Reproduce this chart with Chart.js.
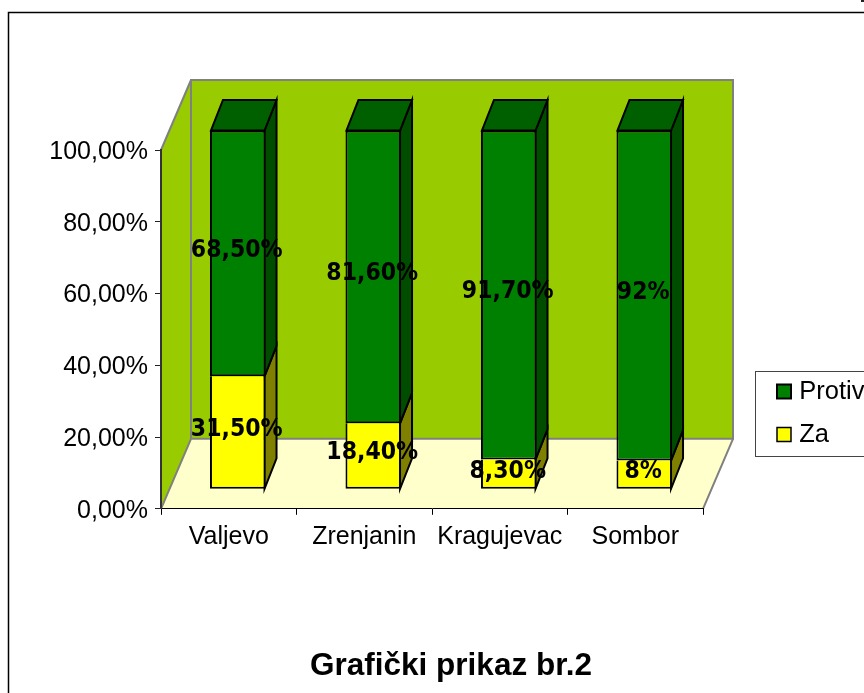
<!DOCTYPE html>
<html><head><meta charset="utf-8">
<style>html,body{margin:0;padding:0;background:#fff;overflow:hidden}canvas{display:block}</style>
<script src="https://cdn.jsdelivr.net/npm/chart.js@4"></script>
</head><body><canvas id="c" width="864" height="693"></canvas>
<script>
const categories = ["Valjevo","Zrenjanin","Kragujevac","Sombor"];
const zaValues = [31.5,18.4,8.3,8];
const protivValues = [68.5,81.6,91.7,92];
const zaLabels = ["31,50%","18,40%","8,30%","8%"];
const protivLabels = ["68,50%","81,60%","91,70%","92%"];
const seriesNames = ["Za","Protiv"];
const chartTitle = "Grafički prikaz br.2";

const SANS = '"Liberation Sans", Arial, sans-serif';
const WALL = {dx:30, dy:-70};
const BAR_SHIFT = {dx:9, dy:-19.5};
const BAR_DEPTH = {dx:12, dy:-30.5};

function poly(ctx, pts, fill, stroke, lw){
  ctx.beginPath();
  pts.forEach((p,i)=> i?ctx.lineTo(p[0],p[1]):ctx.moveTo(p[0],p[1]));
  ctx.closePath();
  if(fill){ctx.fillStyle=fill;ctx.fill();}
  if(stroke){ctx.strokeStyle=stroke;ctx.lineWidth=lw;ctx.stroke();}
}
const scene = {
  id:'scene',
  afterLayout(chart){
    const l=chart.legend;
    l.left=764; l.top=361.25; l.right=1100; l.bottom=600; l.width=336; l.height=239;
    const t=chart.titleBlock;
    t.left=0; t.right=902; t.width=902;
  },
  beforeDraw(chart){
    const ctx=chart.ctx, a=chart.chartArea;
    ctx.save();
    ctx.fillStyle='#fff'; ctx.fillRect(0,0,864,693);
    ctx.strokeStyle='#000'; ctx.lineWidth=1.5;
    ctx.strokeRect(8.5,12.5,900,720);
    ctx.fillStyle='#222'; ctx.fillRect(861,0,3,2);
    const L=a.left,R=a.right,T=a.top,B=a.bottom,dx=WALL.dx,dy=WALL.dy;
    poly(ctx,[[L,B],[R,B],[R+dx,B+dy],[L+dx,B+dy]],'#FFFFCC');
    poly(ctx,[[L,T],[L+dx,T+dy],[L+dx,B+dy],[L,B]],'#99CC00');
    poly(ctx,[[L+dx,T+dy],[R+dx,T+dy],[R+dx,B+dy],[L+dx,B+dy]],'#99CC00','#808080',2);
    ctx.strokeStyle='#808080'; ctx.lineWidth=2;
    ctx.beginPath();
    ctx.moveTo(L,T);ctx.lineTo(L+dx,T+dy);
    ctx.moveTo(L,B);ctx.lineTo(L+dx,B+dy);
    ctx.moveTo(R,B);ctx.lineTo(R+dx,B+dy);
    ctx.stroke();
    // legend frame
    ctx.fillStyle='#fff'; ctx.fillRect(755.5,371.5,200,85);
    ctx.strokeStyle='#444'; ctx.lineWidth=1; ctx.strokeRect(755.5,371.5,200,85);
    ctx.restore();
  },
  beforeDatasetsDraw(chart){
    const ctx=chart.ctx;
    ctx.save();
    ctx.translate(BAR_SHIFT.dx,BAR_SHIFT.dy);
    const ddx=BAR_DEPTH.dx, ddy=BAR_DEPTH.dy;
    const sideCols=['#808000','#004D00'];
    chart.data.datasets.forEach((ds,i)=>{
      chart.getDatasetMeta(i).data.forEach(b=>{
        const r=b.x+b.width/2-1;
        poly(ctx,[[r,b.y],[r+ddx,b.y+ddy],[r+ddx,b.base+ddy],[r,b.base]],sideCols[i],'#000',2);
      });
    });
    chart.getDatasetMeta(1).data.forEach(b=>{
      const l=b.x-b.width/2+1, r=b.x+b.width/2-1;
      poly(ctx,[[l,b.y],[r,b.y],[r+ddx,b.y+ddy],[l+ddx,b.y+ddy]],'#006000','#000',2);
    });
  },
  afterDatasetsDraw(chart){
    const ctx=chart.ctx;
    ctx.font='bold 24.5px "DejaVu Sans", Verdana, sans-serif';
    ctx.fillStyle='#000'; ctx.textAlign='center'; ctx.textBaseline='middle';
    [zaLabels,protivLabels].forEach((labs,i)=>{
      chart.getDatasetMeta(i).data.forEach((b,j)=>{
        ctx.save();
        ctx.translate(b.x-1,(b.y+b.base)/2-3);
        ctx.scale(0.9,1);
        ctx.fillText(labs[j],0,0);
        ctx.restore();
      });
    });
    ctx.restore();
  }
};
new Chart(document.getElementById('c'),{
  type:'bar',
  data:{labels:categories,datasets:[
    {label:seriesNames[0],data:zaValues,backgroundColor:'#FFFF00',borderColor:'#000',borderWidth:{top:0,left:2,right:2,bottom:2},borderSkipped:false,clip:false,barPercentage:0.41,categoryPercentage:1},
    {label:seriesNames[1],data:protivValues,backgroundColor:'#008000',borderColor:'#000',borderWidth:2,borderSkipped:false,clip:false,barPercentage:0.41,categoryPercentage:1}
  ]},
  options:{
    responsive:false,animation:false,
    layout:{padding:{left:48,right:161,top:150,bottom:0}},
    scales:{
      x:{stacked:true,offset:true,
        grid:{offset:true,drawOnChartArea:false,drawTicks:true,tickLength:6,color:'#000'},
        border:{color:'#000',width:1},
        ticks:{autoSkip:false,maxRotation:0,minRotation:0,padding:7,color:'#000',font:{family:SANS,size:25}},
        afterFit(s){s.height=50;}
      },
      y:{stacked:true,min:0,max:100,
        grid:{drawOnChartArea:false,drawTicks:true,tickLength:6,color:'#222'},
        border:{color:'#333',width:2},
        ticks:{stepSize:20,padding:7,labelOffset:2,color:'#000',font:{family:SANS,size:25},callback:v=>v+',00%'},
        afterFit(s){s.width=113;}
      }
    },
    plugins:{
      tooltip:{enabled:false},
      legend:{display:true,position:'chartArea',align:'start',reverse:true,
        labels:{usePointStyle:true,pointStyle:'rect',boxWidth:5,boxHeight:14,padding:17.5,color:'#000',font:{family:SANS,size:25.5}}},
      title:{display:true,text:chartTitle,position:'bottom',color:'#000',
        font:{family:SANS,size:31.5,weight:'bold'},padding:{top:88.4,bottom:8}}
    }
  },
  plugins:[scene]
});
</script></body></html>
